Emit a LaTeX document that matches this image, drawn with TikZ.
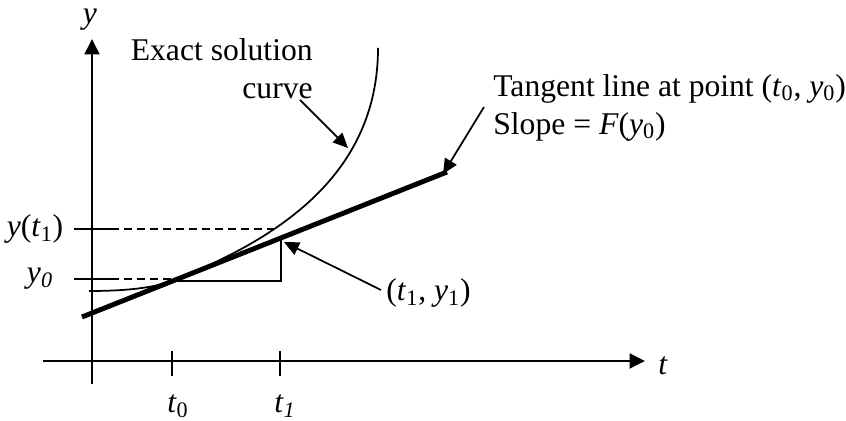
\documentclass[tikz,border=0pt]{standalone}
\usepackage{fontspec}
\setmainfont{Liberation Serif}
\usetikzlibrary{arrows.meta}

\begin{document}
\begin{tikzpicture}[x=0.02cm, y=-0.02cm,
  lbl/.style={inner sep=0pt, font=\fontsize{18}{21.6}\selectfont},
  axis/.style={-{Triangle[length=0.31cm, width=0.3cm]}, line width=1.1pt},
  tick/.style={line width=1.1pt},
  guide/.style={dash pattern=on 0.16cm off 0.1cm, line width=1pt},
  tangent/.style={line width=2.8pt},
  parr/.style={-{Triangle[length=0.3cm, width=0.27cm]}, line width=1pt},
]
  \useasboundingbox (0,0) rectangle (846,421);

  %% axes
  \coordinate (xs) at (43,361);
  \coordinate (xe) at (645,361);
  \coordinate (ys) at (92,384);
  \coordinate (ye) at (92,39);
  \draw[axis] (xs) -- (xe);
  \draw[axis] (ys) -- (ye);
  \node[lbl] (tlab) at (663,366) {\textit{t}};
  \node[lbl] (ylab) at (90,20) {\textit{y}};

  %% ticks and guides
  \draw[tick] (172,351) -- (172,376);
  \draw[tick] (280,351) -- (280,376);
  \draw[tick] (74,229) -- (111,229);
  \draw[tick] (74,279) -- (111,279);
  \draw[guide] (111,229) -- (274,229);
  \draw[guide] (111,279) -- (172,279);
  \node[lbl] (yt1) at (35,229) {\textit{y}(\textit{t}\textsubscript{1})};
  \node[lbl] (y0) at (40,279) {\textit{y}\textsubscript{\textit{0}}};
  \node[lbl] (t0) at (178,406) {\textit{t}\textsubscript{0}};
  \node[lbl] (t1) at (285,406) {\textit{t}\textsubscript{\textit{1}}};

  %% exact solution and tangent
  \draw[line width=1pt] (89,291) .. controls (115,291) and (150,289.6) .. (173,280.5)
    .. controls (273,240.8) and (378,178) .. (378,48);
  \draw[tangent] (82,317) -- (447,172);
  \draw[line width=1pt] (173,281) -- (281,281) -- (281,239);

  %% labels and pointers
  \node[lbl, align=right, anchor=north east] (exact) at (313,38)
    {Exact solution\\curve};
  \node[lbl, align=left, anchor=north west] (tanlab) at (493,74)
    {Tangent line at point (\textit{t}\textsubscript{0}, \textit{y}\textsubscript{0})\\
     Slope = \textit{F}(\textit{y}\textsubscript{0})};
  \node[lbl, anchor=west] (p1) at (386,293)
    {(\textit{t}\textsubscript{1}, \textit{y}\textsubscript{1})};

  \coordinate (c0) at (300,100);
  \coordinate (c1) at (348,148);
  \coordinate (g0) at (484,107);
  \coordinate (g1) at (443,174);
  \coordinate (q0) at (381,290);
  \coordinate (q1) at (284,242);
  \draw[parr] (c0) -- (c1);
  \draw[parr] (g0) -- (g1);
  \draw[parr] (q0) -- (q1);
\end{tikzpicture}
\end{document}
